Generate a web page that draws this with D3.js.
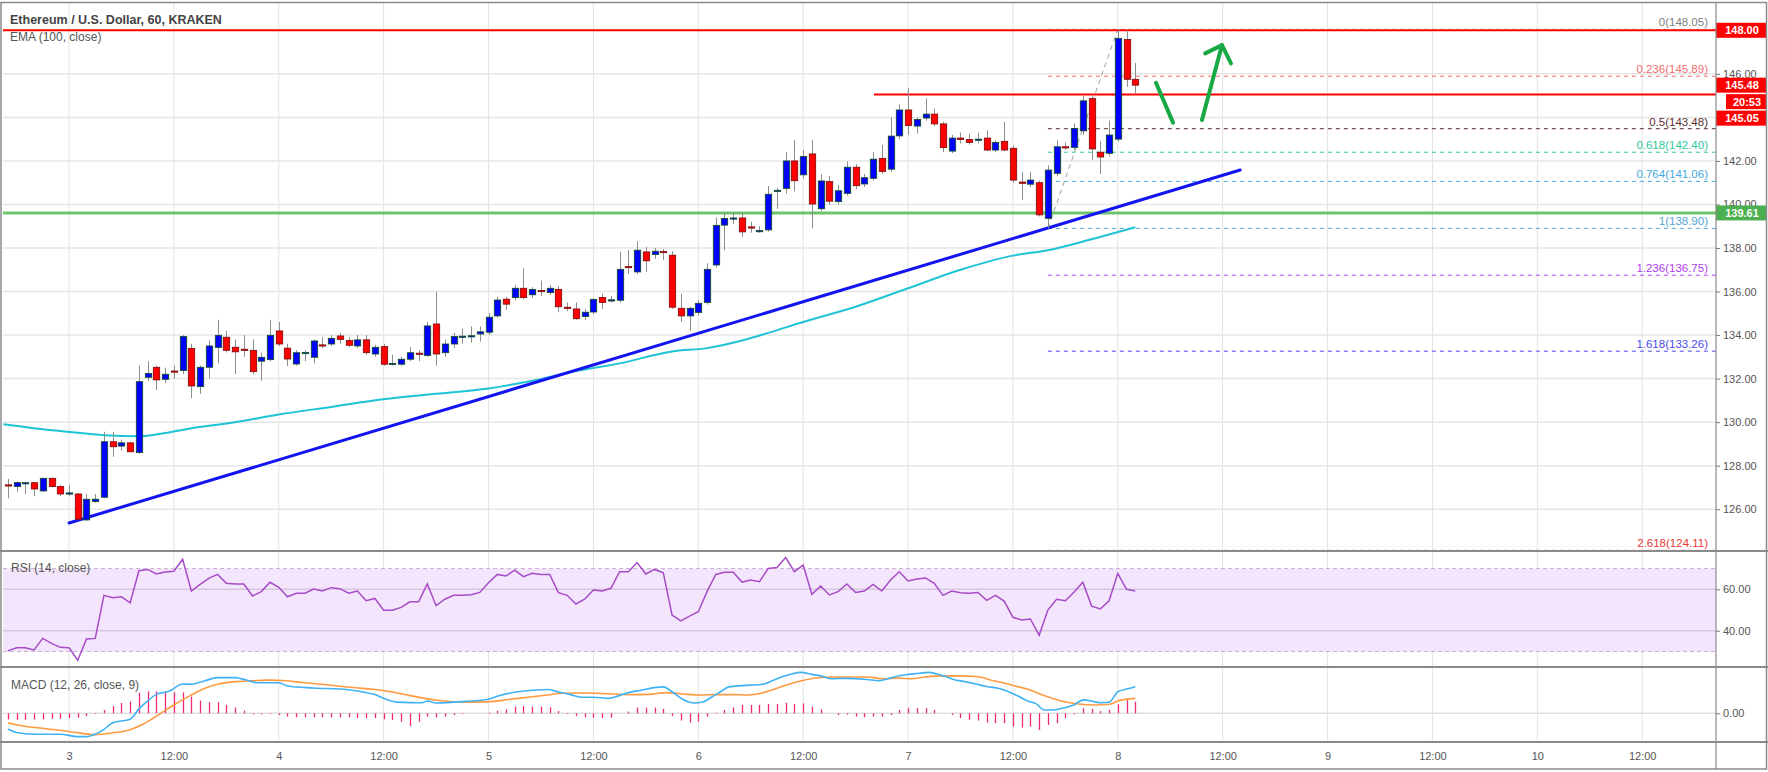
<!DOCTYPE html>
<html><head><meta charset="utf-8">
<script src="https://cdn.jsdelivr.net/npm/d3@7/dist/d3.min.js"></script>
<style>
html,body{margin:0;padding:0;background:#fff;}
svg{display:block;font-family:"Liberation Sans",Arial,sans-serif;}
</style></head><body>
<svg id="c" width="1768" height="772"></svg>
<script>
// ---------------- DATA ----------------
const chartTitle = "Ethereum / U.S. Dollar, 60, KRAKEN";
const emaTitle = "EMA (100, close)";
const rsiTitle = "RSI (14, close)";
const macdTitle = "MACD (12, 26, close, 9)";
const refTime = "2019-12-03T00:00:00Z";   // hour offsets below are counted from here
const firstCandleHour = -7;                 // 2019-12-02 17:00 UTC

const opens  = [127.12,127.04,127.20,127.22,126.84,127.42,127.04,126.72,126.70,125.51,126.35,126.55,129.10,128.90,129.05,128.60,132.06,132.52,131.97,132.35,132.37,133.39,131.63,132.52,133.43,133.90,133.44,133.35,133.30,132.80,132.87,134.19,133.40,132.67,133.15,132.98,133.55,133.59,133.96,133.75,133.50,133.78,133.13,133.47,132.66,132.66,132.89,133.17,133.06,134.51,133.19,133.59,133.90,133.92,134.05,134.13,134.88,135.65,135.72,136.15,135.85,136.05,135.95,136.10,135.28,135.20,134.85,135.06,135.73,135.58,135.60,137.15,136.90,137.82,137.70,137.84,137.67,135.23,134.88,135.04,135.50,137.22,139.05,139.35,139.38,138.97,138.75,138.83,140.60,140.74,142.00,141.36,142.32,139.80,141.05,140.13,140.51,141.71,140.94,141.20,142.12,141.62,143.15,144.34,143.60,143.97,144.15,143.70,142.45,143.05,142.98,142.95,143.05,142.50,142.90,142.58,141.03,140.93,141.00,139.36,141.43,142.65,142.62,143.38,144.86,142.40,142.35,143.00,147.58,145.75];
const highs  = [127.40,127.27,127.25,127.25,127.45,127.45,127.10,127.10,126.75,126.70,126.70,129.56,129.56,129.20,129.10,132.60,132.80,132.60,132.50,132.60,134.00,133.60,132.60,133.75,134.70,134.20,133.80,134.00,133.80,133.20,134.70,134.60,133.60,133.30,133.30,133.80,133.90,134.00,134.10,133.90,134.00,134.00,133.55,133.60,133.10,133.00,133.45,133.30,134.60,135.99,133.80,134.10,134.30,134.40,134.40,135.00,135.75,135.75,136.30,137.07,136.20,136.50,136.30,136.25,135.50,135.50,135.20,135.70,135.90,135.80,137.83,137.90,138.30,138.05,138.00,137.95,137.85,135.90,135.30,135.60,137.30,139.40,139.60,139.65,139.60,139.20,139.00,140.85,140.75,142.40,142.96,142.50,142.96,141.40,141.30,140.90,141.97,141.85,141.40,142.40,142.74,144.00,144.60,145.34,144.00,144.87,144.40,143.80,143.20,143.30,143.25,143.30,143.40,142.95,143.80,142.70,141.50,141.50,141.10,141.80,142.95,142.85,143.72,145.00,144.95,142.90,143.85,148.05,148.00,146.50];
const lows   = [126.50,126.80,126.70,126.60,126.80,127.00,126.60,126.60,125.50,125.45,126.30,126.50,128.41,128.70,128.60,128.55,131.90,131.48,131.80,132.00,132.20,131.10,131.30,132.00,132.70,133.20,132.20,133.00,132.20,131.90,132.80,133.50,132.58,132.60,132.80,132.70,133.40,133.50,133.60,133.45,133.40,133.10,133.00,132.60,132.60,132.60,132.80,132.80,133.00,132.60,133.00,133.40,133.60,133.65,133.70,134.00,134.80,135.15,135.60,135.65,135.70,135.80,135.85,135.05,135.10,134.70,134.70,134.95,135.20,135.50,135.50,136.80,136.80,136.90,137.50,137.45,135.20,134.60,134.20,134.90,135.40,137.10,137.90,139.10,138.50,138.70,138.70,138.75,139.80,140.50,140.60,141.20,138.90,139.70,140.00,140.00,140.40,140.70,140.80,141.10,141.40,141.50,143.00,143.20,143.25,143.85,143.60,142.40,142.35,142.80,142.75,142.80,142.45,142.40,142.45,141.00,140.20,140.80,139.45,138.90,141.30,142.50,142.50,143.20,142.05,141.40,142.20,142.90,145.40,145.10];
const closes = [127.10,127.22,127.22,126.93,127.42,127.04,126.70,126.75,125.54,126.46,126.46,129.10,128.87,129.05,128.64,131.86,132.24,131.94,132.20,132.30,133.93,131.66,132.52,133.50,133.99,133.30,133.23,133.30,132.32,132.98,133.99,133.59,132.90,133.19,133.20,133.73,133.50,133.85,133.80,133.53,133.78,133.19,133.44,132.66,132.70,132.89,133.19,133.15,134.42,133.13,133.59,133.93,133.95,133.97,134.15,134.82,135.61,135.42,136.15,135.72,136.10,136.02,136.15,135.30,135.25,134.75,135.05,135.64,135.50,135.62,137.02,137.10,137.90,137.41,137.85,137.80,135.28,134.88,135.23,135.46,137.02,139.04,139.36,139.38,138.74,138.92,138.80,140.47,140.65,142.00,141.09,142.20,140.02,141.08,140.15,140.63,141.71,140.86,141.23,142.08,141.51,143.14,144.34,143.63,143.90,144.15,143.70,142.61,143.05,142.98,142.85,143.00,142.50,142.85,142.50,141.12,140.97,141.12,139.52,141.58,142.65,142.60,143.49,144.76,142.55,142.18,143.19,147.63,145.75,145.48];

const rsiValues = [30.3,31.8,31.8,30.7,36.3,33.9,32.0,31.8,25.8,36.0,36.3,57.1,55.9,56.4,53.5,69.0,69.6,67.4,68.4,68.7,74.5,59.2,62.4,65.3,67.2,62.9,62.6,62.6,56.8,58.9,63.4,61.0,56.4,58.1,58.1,60.1,59.2,60.8,60.3,58.1,59.2,54.5,55.6,49.9,49.9,51.3,54.0,54.0,62.6,52.1,55.2,57.1,57.1,57.4,58.5,63.2,67.2,66.4,69.3,66.1,67.7,67.2,67.2,58.4,57.1,52.9,55.2,59.7,59.2,60.5,68.5,68.5,72.9,67.4,69.6,68.0,47.6,44.8,47.1,49.2,58.9,67.2,68.2,68.2,63.5,64.5,63.7,70.1,70.5,75.3,68.5,71.7,57.6,61.6,57.3,58.9,62.6,58.5,59.2,62.4,59.2,64.5,68.5,64.0,65.0,65.5,62.9,57.1,59.2,58.4,58.1,58.5,54.7,57.1,54.3,46.5,45.2,45.7,37.8,50.0,55.2,54.5,58.7,63.4,51.9,50.5,54.5,67.7,60.0,59.2];

const macdHist = [-0.28,-0.30,-0.30,-0.28,-0.28,-0.25,-0.25,-0.22,-0.20,-0.12,-0.03,0.15,0.33,0.47,0.53,0.94,1.00,1.00,1.00,0.95,0.95,0.76,0.58,0.50,0.50,0.38,0.26,0.12,-0.05,-0.05,-0.03,-0.08,-0.15,-0.18,-0.18,-0.18,-0.18,-0.18,-0.18,-0.18,-0.22,-0.22,-0.22,-0.27,-0.30,-0.38,-0.58,-0.38,-0.15,-0.18,-0.15,-0.08,-0.03,0.00,0.01,0.03,0.12,0.18,0.30,0.33,0.30,0.30,0.27,0.10,-0.03,-0.12,-0.18,-0.20,-0.22,-0.20,0.00,0.08,0.26,0.26,0.26,0.20,-0.12,-0.33,-0.42,-0.38,-0.15,0.03,0.15,0.27,0.38,0.38,0.38,0.42,0.42,0.48,0.42,0.45,0.30,0.18,0.00,-0.08,-0.06,-0.15,-0.18,-0.15,-0.15,-0.08,0.15,0.23,0.23,0.23,0.15,0.00,-0.08,-0.22,-0.30,-0.33,-0.42,-0.45,-0.45,-0.60,-0.65,-0.60,-0.76,-0.53,-0.45,-0.22,-0.05,0.23,0.20,0.10,0.15,0.41,0.60,0.53];

// [hours from refTime, value]
const emaPoints = [[-7.5,129.9],[-4,129.72],[0,129.55],[4,129.4],[8,129.35],[11,129.5],[14,129.72],[19,130.0],[24,130.35],[30,130.7],[36,131.05],[42,131.3],[48,131.55],[53,131.9],[58,132.35],[63,132.7],[69,133.25],[73,133.4],[77,133.75],[80,134.1],[84,134.6],[90,135.3],[96,136.15],[102,137.0],[108,137.65],[112,137.9],[117,138.4],[122,138.95]];
const macdPoints = [[-7,-0.71],[-6,-0.87],[-4,-0.95],[-1,-0.95],[1,-1.06],[2,-1.06],[3,-0.95],[4,-0.73],[5,-0.43],[7,-0.27],[8,0.2],[9,0.57],[10,0.86],[11.5,1.01],[13,1.33],[14,1.32],[15.5,1.47],[17,1.62],[19,1.62],[20.3,1.51],[21.6,1.39],[24,1.39],[25,1.24],[28,1.15],[31.5,1.09],[33,1.01],[35,0.85],[36,0.68],[37.5,0.51],[40.4,0.48],[41,0.56],[42,0.47],[45.3,0.54],[48,0.64],[49.2,0.8],[50.5,0.92],[53.5,1.06],[54.8,1.08],[56,0.97],[57.4,0.85],[58.7,0.73],[60,0.73],[61.7,0.68],[62.7,0.77],[64,0.94],[65.3,1.04],[68,1.2],[69,0.98],[70.2,0.64],[71.5,0.47],[72.5,0.51],[73.5,0.73],[74.5,0.97],[75.5,1.2],[77,1.26],[79.4,1.32],[80.4,1.47],[81.7,1.67],[82.7,1.79],[83.7,1.86],[85,1.77],[86,1.7],[87.3,1.57],[88.6,1.59],[91.3,1.54],[92.6,1.48],[93.7,1.57],[95,1.71],[96,1.77],[97.3,1.82],[98.3,1.86],[99.3,1.79],[100.3,1.67],[101.2,1.54],[102.5,1.44],[103.8,1.33],[105.1,1.21],[106.4,1.13],[107.7,0.95],[108.7,0.76],[109.7,0.56],[110.6,0.45],[111.6,0.15],[112.6,0.15],[113.5,0.22],[114.8,0.35],[116.1,0.61],[117.1,0.55],[118.1,0.48],[119,0.5],[120,0.98],[121,1.1],[122,1.21]];
const signalPoints = [[-7,-0.43],[-5.3,-0.58],[-3.3,-0.67],[-1.3,-0.76],[0.6,-0.86],[2.9,-0.97],[5.2,-0.88],[6.9,-0.76],[8.5,-0.49],[10.2,-0.08],[11.8,0.33],[13.8,0.79],[15.4,1.12],[17.1,1.33],[19,1.44],[21,1.48],[23,1.51],[24.9,1.48],[26.9,1.39],[28.9,1.32],[30.8,1.24],[32.8,1.16],[34.8,1.09],[36.8,0.98],[38.7,0.83],[40.7,0.68],[42.7,0.57],[44.6,0.51],[46.6,0.51],[48.6,0.54],[50.5,0.64],[52.5,0.73],[54.5,0.82],[56.4,0.91],[58.4,0.92],[60.4,0.91],[62.4,0.88],[64.3,0.85],[66.3,0.86],[68.3,0.94],[70.2,0.88],[72.2,0.83],[74.2,0.85],[76.1,0.85],[77.5,0.83],[78.8,0.88],[80.4,1.06],[82.1,1.29],[83.7,1.47],[85.3,1.59],[87.3,1.65],[89.3,1.65],[91.3,1.65],[93.2,1.57],[94.9,1.6],[96.4,1.57],[98,1.65],[100,1.7],[101.9,1.7],[103.8,1.67],[105.8,1.48],[107.7,1.3],[109.7,1.09],[111.6,0.8],[113.5,0.56],[115.5,0.42],[117.4,0.38],[119.1,0.41],[120,0.56],[122,0.68]];

const priceTicks = [126,128,130,132,134,136,138,140,142,144,146,148];
const rsiTicks = [40,60];
const rsiBands = [30,70];
const macdTicks = [0];

const fibRatios = ["0","0.236","0.5","0.618","0.764","1","1.236","1.618","2.618"];
const fibPrices = [148.05,145.89,143.48,142.40,141.06,138.90,136.75,133.26,124.11];
const fibColors = ["#9aa0a6","#f26d6d","#5a2d2d","#2fc79a","#45a9e0","#55a6d8","#b03cf0","#4a4af0","#e53935"];
const fibStartHour = 112, fibEndHour = 120; // swing low -> swing high

const hLines = [ {price:148.00, fromHour:null, color:"#ff0000", w:2},
                 {price:145.05, fromHour:92.1, color:"#ff0000", w:2},
                 {price:139.61, fromHour:null, color:"#6cc36c", w:3} ];
const trendLine = [[0,125.37],[134,141.58]];
const arrowDown = [[124.37,145.59],[126.32,143.76]];
const arrowUp = [[129.63,143.88],[131.92,147.32]];
const arrowHead = [[130.0,146.94],[131.92,147.32],[132.95,146.48]];
const lastPrice = 145.48, countdown = "20:53";

// ---------------- LAYOUT ----------------
const svg = d3.select("#c");
const W = 1768, H = 772;
const L = 3, R = 1716;
const mainT = 3, mainB = 551, rsiB = 667, macdB = 742, bottom = 769;
const HOUR = 3600e3;
const ref = new Date(refTime).getTime();
const tAt = h => new Date(ref + h*HOUR);

const x = d3.scaleUtc().domain([tAt(-7.551), tAt(188.444)]).range([L, R]);
const y = d3.scaleLinear().domain([124.081, 149.254]).range([mainB, mainT]);
const yR = d3.scaleLinear().domain([22.5, 78.5]).range([rsiB, mainB]);
const yM = d3.scaleLinear().domain([-1.305, 2.105]).range([macdB, rsiB]);

svg.append("rect").attr("width",W).attr("height",H).attr("fill","#fff");

const defs = svg.append("defs");
function clip(id, y0, y1){ defs.append("clipPath").attr("id",id).append("rect").attr("x",L).attr("y",y0).attr("width",R-L).attr("height",y1-y0); return "url(#"+id+")"; }
const cMain = clip("cm", mainT, mainB), cRsi = clip("cr", mainB, rsiB), cMacd = clip("cd", rsiB, macdB);

// time ticks (every 12h)
const timeTicks = x.ticks(d3.utcHour.every(12));
const fmtTime = d => d.getUTCHours() === 0 ? String(d.getUTCDate()) : "12:00";

// vertical grid across all panes
const grid = svg.append("g");
grid.selectAll("line.v").data(timeTicks).join("line")
  .attr("x1",d=>x(d)).attr("x2",d=>x(d)).attr("y1",mainT).attr("y2",macdB)
  .attr("stroke","#e3e3e3").attr("stroke-width",1);
grid.selectAll("line.h").data(priceTicks).join("line")
  .attr("x1",L).attr("x2",R).attr("y1",d=>y(d)).attr("y2",d=>y(d))
  .attr("stroke","#e6e6e6").attr("stroke-width",1.5);

// ---------------- MAIN PANE ----------------
const gMain = svg.append("g").attr("clip-path", cMain);

// fib levels
fibPrices.forEach((p,i)=>{
  gMain.append("line").attr("x1",x(tAt(fibStartHour))).attr("x2",R)
    .attr("y1",y(p)).attr("y2",y(p)).attr("stroke",fibColors[i]).attr("stroke-width",1)
    .attr("stroke-dasharray","4,4").attr("opacity", i===0?0.6:1);
});
gMain.append("line").attr("x1",x(tAt(fibStartHour))).attr("y1",y(fibPrices[5]))
  .attr("x2",x(tAt(fibEndHour))).attr("y2",y(fibPrices[0]))
  .attr("stroke","#a0a0a0").attr("stroke-width",1).attr("stroke-dasharray","5,4");

// horizontal S/R lines
hLines.forEach(l=>{
  gMain.append("line").attr("x1", l.fromHour===null? 0 : x(tAt(l.fromHour))).attr("x2",R)
    .attr("y1",y(l.price)).attr("y2",y(l.price)).attr("stroke",l.color).attr("stroke-width",l.w);
});

// EMA
const lineGen = (ys) => d3.line().x(d=>x(tAt(d[0]))).y(d=>ys(d[1])).curve(d3.curveMonotoneX);
gMain.append("path").attr("d", lineGen(y)(emaPoints)).attr("fill","none")
  .attr("stroke","#1fc3d6").attr("stroke-width",2);

// trend line
gMain.append("line").attr("x1",x(tAt(trendLine[0][0]))).attr("y1",y(trendLine[0][1]))
  .attr("x2",x(tAt(trendLine[1][0]))).attr("y2",y(trendLine[1][1]))
  .attr("stroke","#1414f0").attr("stroke-width",3).attr("stroke-linecap","round");

// candles
const candles = opens.map((o,i)=>({t:tAt(firstCandleHour+i), o, h:highs[i], l:lows[i], c:closes[i]}));
const bw = 6.4;
const gC = gMain.append("g");
gC.selectAll("line.w").data(candles).join("line")
  .attr("x1",d=>Math.round(x(d.t))+0.5).attr("x2",d=>Math.round(x(d.t))+0.5)
  .attr("y1",d=>y(d.h)).attr("y2",d=>y(d.l)).attr("stroke","#8e8e8e").attr("stroke-width",1);
gC.selectAll("rect").data(candles).join("rect")
  .attr("x",d=>Math.round(x(d.t))+0.5-bw/2)
  .attr("width",bw)
  .attr("y",d=>y(Math.max(d.o,d.c)))
  .attr("height",d=>Math.max(1.2, Math.abs(y(d.o)-y(d.c))))
  .attr("fill",d=>d.c>=d.o?"#0000ff":"#ff0000")
  .attr("stroke",d=>d.c>=d.o?"#0f4d1f":"#7a0a0a").attr("stroke-width",0.8);

// green arrows
const ptLine = d3.line().x(d=>x(tAt(d[0]))).y(d=>y(d[1]));
[arrowDown, arrowUp, arrowHead].forEach(a=>{
  gMain.append("path").attr("d",ptLine(a)).attr("fill","none").attr("stroke","#18a844")
    .attr("stroke-width",4).attr("stroke-linecap","round").attr("stroke-linejoin","round");
});

// fib labels
const fibG = svg.append("g").attr("font-size",11.5);
fibPrices.forEach((p,i)=>{
  fibG.append("text").attr("x",1708).attr("y",y(p)-3).attr("text-anchor","end")
    .attr("fill",fibColors[i]==="#9aa0a6"?"#7f7f7f":fibColors[i])
    .text(fibRatios[i]+"("+p.toFixed(2)+")");
});

// ---------------- RSI PANE ----------------
const gR = svg.append("g").attr("clip-path", cRsi);
gR.append("rect").attr("x",L).attr("width",R-L).attr("y",yR(rsiBands[1])).attr("height",yR(rsiBands[0])-yR(rsiBands[1]))
  .attr("fill","#f3e6fc");
rsiTicks.forEach(v=>gR.append("line").attr("x1",L).attr("x2",R).attr("y1",yR(v)).attr("y2",yR(v))
  .attr("stroke","#d6c6de").attr("stroke-width",1.5));
rsiBands.forEach(v=>gR.append("line").attr("x1",L).attr("x2",R).attr("y1",yR(v)).attr("y2",yR(v))
  .attr("stroke","#c6aed0").attr("stroke-width",1).attr("stroke-dasharray","4,3"));
gR.append("path").attr("fill","none").attr("stroke","#a74bc6").attr("stroke-width",1.5)
  .attr("d", d3.line().x((d,i)=>x(tAt(firstCandleHour+i))).y(d=>yR(d))(rsiValues));

// ---------------- MACD PANE ----------------
const gD = svg.append("g").attr("clip-path", cMacd);
gD.append("line").attr("x1",L).attr("x2",R).attr("y1",yM(0)).attr("y2",yM(0)).attr("stroke","#e0e0e0").attr("stroke-width",1.5);
gD.selectAll("line.hist").data(macdHist).join("line")
  .attr("x1",(d,i)=>Math.round(x(tAt(firstCandleHour+i)))+0.5).attr("x2",(d,i)=>Math.round(x(tAt(firstCandleHour+i)))+0.5)
  .attr("y1",yM(0)).attr("y2",d=>yM(d)).attr("stroke","#f0287a").attr("stroke-width",1.3);
gD.append("path").attr("d",lineGen(yM)(signalPoints)).attr("fill","none").attr("stroke","#ff9a40").attr("stroke-width",1.6);
gD.append("path").attr("d",lineGen(yM)(macdPoints)).attr("fill","none").attr("stroke","#40b2f4").attr("stroke-width",1.6);

// ---------------- AXES ----------------
const axisText = "#555";
// price axis
const pa = svg.append("g").attr("transform",`translate(${R},0)`)
  .call(d3.axisRight(y).tickValues(priceTicks).tickSize(4).tickPadding(3).tickFormat(d3.format(".2f")));
pa.select(".domain").remove();
pa.selectAll("line").attr("stroke","#777");
pa.selectAll("text").attr("fill",axisText).attr("font-size",11).attr("font-family","Liberation Sans, Arial, sans-serif");
const ra = svg.append("g").attr("transform",`translate(${R},0)`)
  .call(d3.axisRight(yR).tickValues(rsiTicks).tickSize(4).tickPadding(3).tickFormat(d3.format(".2f")));
ra.select(".domain").remove(); ra.selectAll("line").attr("stroke","#777");
ra.selectAll("text").attr("fill",axisText).attr("font-size",11).attr("font-family","Liberation Sans, Arial, sans-serif");
const ma = svg.append("g").attr("transform",`translate(${R},0)`)
  .call(d3.axisRight(yM).tickValues(macdTicks).tickSize(4).tickPadding(3).tickFormat(d3.format(".2f")));
ma.select(".domain").remove(); ma.selectAll("line").attr("stroke","#777");
ma.selectAll("text").attr("fill",axisText).attr("font-size",11).attr("font-family","Liberation Sans, Arial, sans-serif");

// time axis
const ta = svg.append("g").attr("transform",`translate(0,${macdB})`)
  .call(d3.axisBottom(x).tickValues(timeTicks).tickSize(0).tickPadding(10).tickFormat(fmtTime));
ta.select(".domain").remove();
ta.selectAll("text").attr("fill",axisText).attr("font-size",11).attr("font-family","Liberation Sans, Arial, sans-serif");

// price label boxes
function box(yc, txt, fill, x0){
  const g = svg.append("g");
  g.append("rect").attr("x",x0).attr("y",yc-7.5).attr("width",1766-x0).attr("height",15).attr("fill",fill);
  g.append("text").attr("x",(x0+1766)/2+1).attr("y",yc+4).attr("text-anchor","middle")
    .attr("fill","#fff").attr("font-size",11).attr("font-weight","bold").text(txt);
}
box(y(148.00), "148.00", "#ff0000", R);
const yLast = y(lastPrice);
box(yLast, lastPrice.toFixed(2), "#ff0000", R);
box(yLast+16.5, countdown, "#ff0000", R+10);
box(Math.max(y(145.05), yLast+16.5+16.5), "145.05", "#ff0000", R);
box(y(139.61), "139.61", "#4caf50", R);

// ---------------- FRAME ----------------
const fr = svg.append("g").attr("stroke","#8a8a8a").attr("fill","none");
fr.append("line").attr("x1",R).attr("x2",R).attr("y1",mainT).attr("y2",bottom).attr("stroke-width",1.2);
[mainB, rsiB, macdB].forEach(v=>fr.append("line").attr("x1",0).attr("x2",W).attr("y1",v).attr("y2",v).attr("stroke-width",2));
fr.append("rect").attr("x",1).attr("y",2.5).attr("width",W-2.5).attr("height",bottom-2.5).attr("stroke-width",1.5);

// ---------------- TITLES ----------------
svg.append("text").attr("x",10).attr("y",24).attr("font-size",12.5).attr("font-weight","bold").attr("fill","#444").text(chartTitle);
svg.append("text").attr("x",10).attr("y",41).attr("font-size",12).attr("fill","#555").text(emaTitle);
svg.append("text").attr("x",11).attr("y",572).attr("font-size",12).attr("fill","#555").text(rsiTitle);
svg.append("text").attr("x",11).attr("y",689).attr("font-size",12).attr("fill","#555").text(macdTitle);
</script>
</body></html>
